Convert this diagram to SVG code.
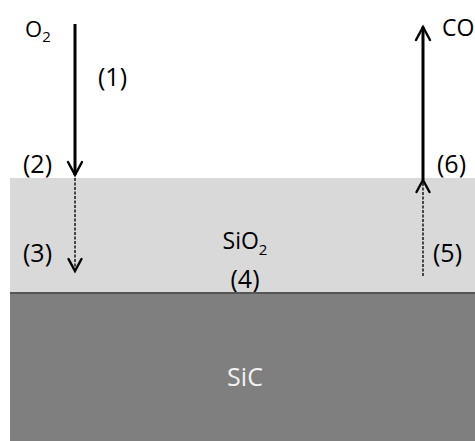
<svg xmlns="http://www.w3.org/2000/svg" width="475" height="441" viewBox="0 0 475 441">
<style>
text{font-family:"Open Sans","Liberation Sans",sans-serif;fill:#000}
.lbl{font-size:25px}
.sub{font-size:15px}
.solid{stroke:#000;stroke-width:3;fill:none}
.dash{stroke:#222;stroke-width:1.6;stroke-dasharray:3 1.5;fill:none}
.head{stroke:#000;stroke-width:2.4;fill:none;stroke-linecap:round;stroke-linejoin:miter}
</style>
<rect width="475" height="441" fill="#fff"/>
<g id="sio2">
<rect x="10" y="178" width="465" height="115" fill="#d9d9d9"/>
<text x="245" y="249" text-anchor="middle" style="font-size:23px">SiO<tspan class="sub" dy="6">2</tspan></text>
<text x="245" y="288" text-anchor="middle" class="lbl">(4)</text>
</g>
<g id="sic">
<rect x="10" y="293" width="465" height="148" fill="#7f7f7f"/>
<line x1="10" y1="293" x2="475" y2="293" stroke="#555" stroke-width="2"/>
<text x="245" y="386" text-anchor="middle" style="font-size:25px;fill:#f2f2f2">SiC</text>
</g>
<g id="labels">
<text x="25" y="37" style="font-size:22px">O<tspan class="sub" dy="5">2</tspan></text>
<text x="442" y="36" style="font-size:23px">CO</text>
<text x="98" y="86" class="lbl">(1)</text>
<text x="23" y="173" class="lbl">(2)</text>
<text x="23" y="262" class="lbl">(3)</text>
<text x="437" y="173" class="lbl">(6)</text>
<text x="433" y="262" class="lbl">(5)</text>
</g>
<g id="connectors">
<line class="solid" x1="75" y1="24" x2="75" y2="175"/>
<polyline class="head" points="68,162 75,175 82,162"/>
<line class="dash" x1="75" y1="178" x2="75" y2="270"/>
<polyline class="head" points="68.5,259 75,271 81.5,259"/>
<line class="solid" x1="423" y1="27" x2="423" y2="180"/>
<polyline class="head" points="416,40 423,27 430,40"/>
<line class="dash" x1="423" y1="276" x2="423" y2="182"/>
<polyline class="head" points="416.5,192 423,180 429.5,192"/>
</g>
</svg>
